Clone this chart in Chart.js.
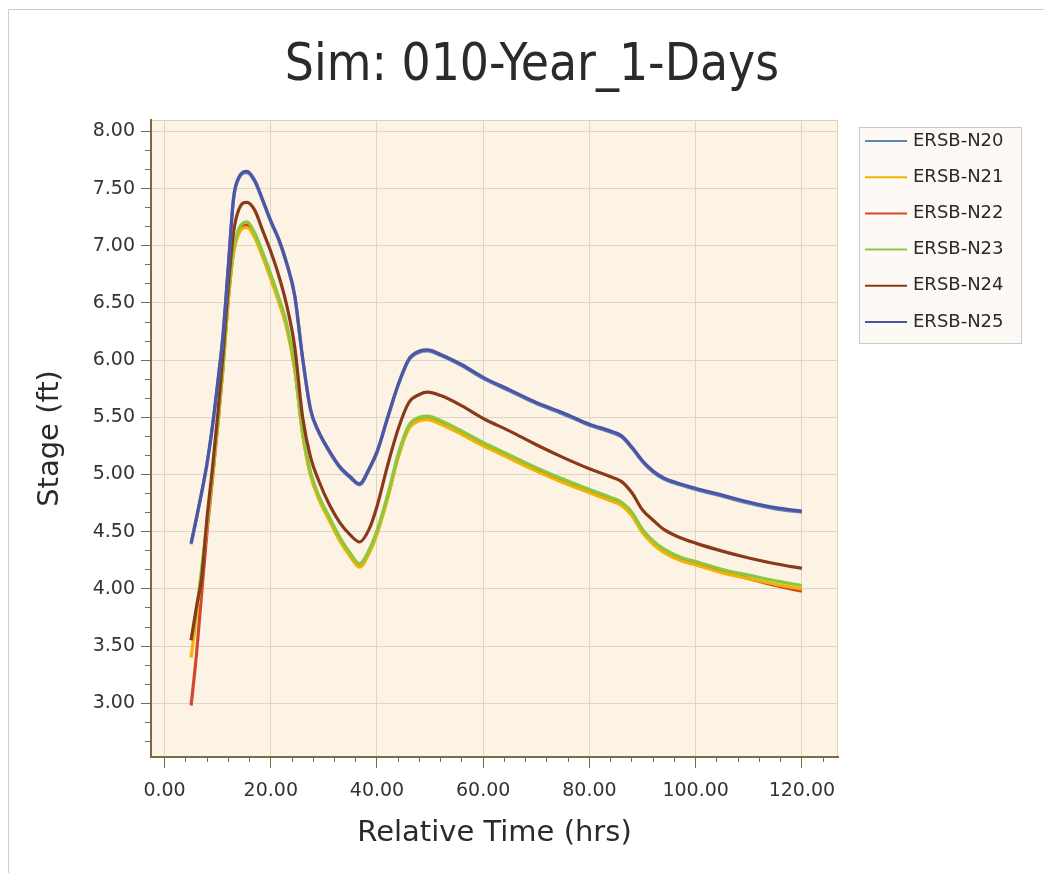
<!DOCTYPE html>
<html>
<head>
<meta charset="utf-8">
<script src="https://cdn.jsdelivr.net/npm/chart.js@4"></script>
<style>
  html, body { margin: 0; padding: 0; background: #ffffff; }
  #wrap { width: 1044px; height: 873px; }
</style>
</head>
<body>
<div id="wrap"><canvas id="c" width="1044" height="873"></canvas></div>
<script>
// ---------- DATA ----------
const chartTitle = 'Sim: 010-Year_1-Days';
const xAxisTitle = 'Relative Time (hrs)';
const yAxisTitle = 'Stage (ft)';
const seriesNames = ['ERSB-N20', 'ERSB-N21', 'ERSB-N22', 'ERSB-N23', 'ERSB-N24', 'ERSB-N25'];
const xTickValues = [0, 20, 40, 60, 80, 100, 120];
const yTickValues = [3.0, 3.5, 4.0, 4.5, 5.0, 5.5, 6.0, 6.5, 7.0, 7.5, 8.0];

const hours = [5, 6, 7, 8, 9, 10, 11, 12, 13, 14,
  15.5, 17, 18.5, 20, 21.5, 23, 24.5, 26, 27.5, 29,
  31, 33, 35, 36.7, 38.5, 40, 42, 44, 46, 48,
  49.5, 52, 56, 60, 65, 70, 75, 80, 84, 86,
  88, 90, 92, 94, 97, 100, 105, 110, 115, 120];

const n20 = [4.39, 4.61, 4.84, 5.09, 5.41, 5.79, 6.21, 6.81, 7.41, 7.59,
  7.64, 7.56, 7.39, 7.21, 7.05, 6.84, 6.56, 6.01, 5.56, 5.37,
  5.20, 5.06, 4.97, 4.91, 5.04, 5.19, 5.49, 5.78, 6.00, 6.07,
  6.08, 6.04, 5.95, 5.84, 5.73, 5.62, 5.53, 5.43, 5.37, 5.33,
  5.23, 5.11, 5.02, 4.96, 4.91, 4.87, 4.81, 4.75, 4.70, 4.67];
const n21 = [3.40, 3.76, 4.15, 4.55, 4.97, 5.42, 5.92, 6.52, 6.94, 7.11,
  7.16, 7.07, 6.90, 6.71, 6.51, 6.28, 5.92, 5.35, 4.99, 4.79,
  4.60, 4.42, 4.28, 4.19, 4.31, 4.48, 4.79, 5.15, 5.40, 5.47,
  5.48, 5.44, 5.35, 5.25, 5.14, 5.03, 4.93, 4.84, 4.77, 4.73,
  4.64, 4.49, 4.39, 4.32, 4.25, 4.21, 4.14, 4.09, 4.04, 4.00];
const n22 = [2.98, 3.42, 3.97, 4.50, 4.95, 5.42, 5.93, 6.53, 6.95, 7.12,
  7.18, 7.08, 6.91, 6.72, 6.52, 6.29, 5.93, 5.36, 5.00, 4.80,
  4.61, 4.43, 4.29, 4.20, 4.32, 4.49, 4.80, 5.16, 5.41, 5.48,
  5.49, 5.45, 5.36, 5.26, 5.15, 5.04, 4.94, 4.85, 4.78, 4.74,
  4.65, 4.50, 4.40, 4.33, 4.26, 4.22, 4.15, 4.09, 4.03, 3.98];
const n23 = [3.55, 3.82, 4.18, 4.58, 5.00, 5.45, 5.95, 6.55, 6.98, 7.15,
  7.21, 7.11, 6.94, 6.75, 6.55, 6.32, 5.95, 5.38, 5.02, 4.82,
  4.63, 4.45, 4.31, 4.22, 4.34, 4.51, 4.82, 5.18, 5.43, 5.50,
  5.51, 5.47, 5.38, 5.28, 5.17, 5.06, 4.96, 4.87, 4.80, 4.76,
  4.67, 4.52, 4.42, 4.35, 4.28, 4.24, 4.17, 4.12, 4.07, 4.03];
const n24 = [3.55, 3.84, 4.10, 4.62, 5.05, 5.52, 6.05, 6.65, 7.12, 7.32,
  7.38, 7.31, 7.13, 6.95, 6.74, 6.48, 6.12, 5.50, 5.15, 4.95,
  4.74, 4.58, 4.47, 4.41, 4.52, 4.72, 5.08, 5.40, 5.63, 5.70,
  5.72, 5.69, 5.60, 5.49, 5.38, 5.26, 5.15, 5.05, 4.98, 4.94,
  4.84, 4.69, 4.60, 4.52, 4.45, 4.40, 4.33, 4.27, 4.22, 4.18];
const n25 = [4.40, 4.62, 4.85, 5.10, 5.42, 5.80, 6.22, 6.82, 7.42, 7.60,
  7.65, 7.57, 7.40, 7.22, 7.06, 6.85, 6.57, 6.02, 5.57, 5.38,
  5.21, 5.07, 4.98, 4.92, 5.05, 5.20, 5.50, 5.79, 6.01, 6.08,
  6.09, 6.05, 5.96, 5.85, 5.74, 5.63, 5.54, 5.44, 5.38, 5.34,
  5.24, 5.12, 5.03, 4.97, 4.92, 4.88, 4.82, 4.76, 4.71, 4.68];

// ---------- STYLE ----------
const seriesValues = [n20, n21, n22, n23, n24, n25];
const seriesColors = ['#5f86b8', '#f2b400', '#d4472e', '#8dc63f', '#8a3a1a', '#4d55a5'];
const drawOrder = [2, 5, 6, 4, 3, 1];
const axisColor = '#7a6b45';
const gridColor = '#ded5c3';
const plotBg = '#fcf3e5';
const textColor = '#2a2a2a';
const baseFont = "'DejaVu Sans', Verdana, sans-serif";
const titleFont = "'DejaVu Sans Condensed', 'DejaVu Sans', sans-serif";

const datasets = seriesNames.map((name, i) => ({
  label: name,
  data: hours.map((h, k) => ({ x: h, y: seriesValues[i][k] })),
  borderColor: seriesColors[i],
  backgroundColor: seriesColors[i],
  borderWidth: 3.2,
  pointRadius: 0,
  cubicInterpolationMode: 'monotone',
  fill: false,
  order: drawOrder[i]
}));

const decorPlugin = {
  id: 'decor',
  beforeDraw(chart) {
    const { ctx, chartArea: a } = chart;
    ctx.save();
    ctx.fillStyle = '#ffffff';
    ctx.fillRect(0, 0, chart.width, chart.height);
    ctx.strokeStyle = '#cdcdcd';
    ctx.lineWidth = 1;
    ctx.strokeRect(8.5, 9.5, chart.width + 10, chart.height + 10);
    ctx.fillStyle = plotBg;
    ctx.fillRect(a.left, a.top, a.right - a.left, a.bottom - a.top);
    ctx.strokeStyle = '#d9d0bd';
    ctx.strokeRect(a.left + 0.5, a.top + 0.5, a.right - a.left - 1, a.bottom - a.top - 1);
    ctx.restore();
  },
  afterDraw(chart) {
    const { ctx } = chart;
    const bx = 859, by = 127, bw = 162, bh = 216;
    ctx.save();
    ctx.fillStyle = '#fdfaf5';
    ctx.fillRect(bx, by, bw, bh);
    ctx.strokeStyle = '#c9c9c9';
    ctx.lineWidth = 1;
    ctx.strokeRect(bx + 0.5, by + 0.5, bw, bh);
    ctx.font = '18px ' + baseFont;
    ctx.textBaseline = 'middle';
    ctx.textAlign = 'left';
    seriesNames.forEach((name, i) => {
      const y = 141 + i * 36.2;
      ctx.strokeStyle = seriesColors[i];
      ctx.lineWidth = 2;
      ctx.beginPath();
      ctx.moveTo(865, y);
      ctx.lineTo(907, y);
      ctx.stroke();
      ctx.fillStyle = textColor;
      ctx.fillText(name, 913, y);
    });
    ctx.restore();
  }
};

const xMin = -2.55, xMax = 126.8, yMin = 2.53, yMax = 8.1;

new Chart(document.getElementById('c'), {
  type: 'line',
  data: { datasets },
  plugins: [decorPlugin],
  options: {
    responsive: false,
    animation: false,
    devicePixelRatio: 1,
    layout: { padding: { left: 20, right: 0, top: 0, bottom: 0 } },
    plugins: {
      legend: { display: false },
      tooltip: { enabled: false },
      title: {
        display: true,
        text: chartTitle,
        color: textColor,
        font: { family: titleFont, size: 51, weight: 'normal' },
        padding: { top: 36, bottom: 22.8 }
      }
    },
    scales: {
      x: {
        type: 'linear',
        position: 'bottom',
        min: xMin, max: xMax,
        afterBuildTicks: s => { s.ticks = xTickValues.map(v => ({ value: v })); },
        ticks: {
          color: '#333333',
          font: { family: baseFont, size: 19 },
          padding: 12,
          maxRotation: 0,
          callback: v => Number(v).toFixed(2)
        },
        grid: { color: gridColor, tickColor: axisColor, tickLength: 11, lineWidth: 1 },
        border: { color: axisColor, width: 2 },
        title: {
          display: true, text: xAxisTitle, color: textColor,
          font: { family: baseFont, size: 29 },
          padding: { top: 0, bottom: 22 }
        },
        afterFit: s => { s.height = 116; }
      },
      xMinor: {
        type: 'linear',
        position: 'bottom',
        weight: -1,
        min: xMin, max: xMax,
        ticks: { display: false, stepSize: 4, maxTicksLimit: 100, includeBounds: false, autoSkip: false },
        grid: { drawOnChartArea: false, color: axisColor, tickLength: 5 },
        border: { display: false },
        afterFit: s => { s.height = 0; }
      },
      y: {
        type: 'linear',
        position: 'left',
        min: yMin, max: yMax,
        afterBuildTicks: s => { s.ticks = yTickValues.map(v => ({ value: v })); },
        ticks: {
          color: '#333333',
          font: { family: baseFont, size: 19 },
          padding: 6,
          callback: v => Number(v).toFixed(2)
        },
        grid: { color: gridColor, tickColor: axisColor, tickLength: 10, lineWidth: 1 },
        border: { color: axisColor, width: 2 },
        title: {
          display: true, text: yAxisTitle, color: textColor,
          font: { family: baseFont, size: 29 },
          padding: { top: 13, bottom: 0 }
        },
        afterFit: s => { s.width = 131; }
      },
      yMinor: {
        type: 'linear',
        position: 'left',
        weight: -1,
        min: yMin, max: yMax,
        ticks: { display: false, stepSize: 1 / 6, maxTicksLimit: 100, includeBounds: false, autoSkip: false },
        grid: { drawOnChartArea: false, color: axisColor, tickLength: 6 },
        border: { display: false },
        afterFit: s => { s.width = 0; }
      },
      ySpace: {
        type: 'linear',
        position: 'right',
        display: true,
        min: 0, max: 1,
        ticks: { display: false },
        grid: { display: false, drawTicks: false },
        border: { display: false },
        afterFit: s => { s.width = 206; }
      }
    }
  }
});
</script>
</body>
</html>
